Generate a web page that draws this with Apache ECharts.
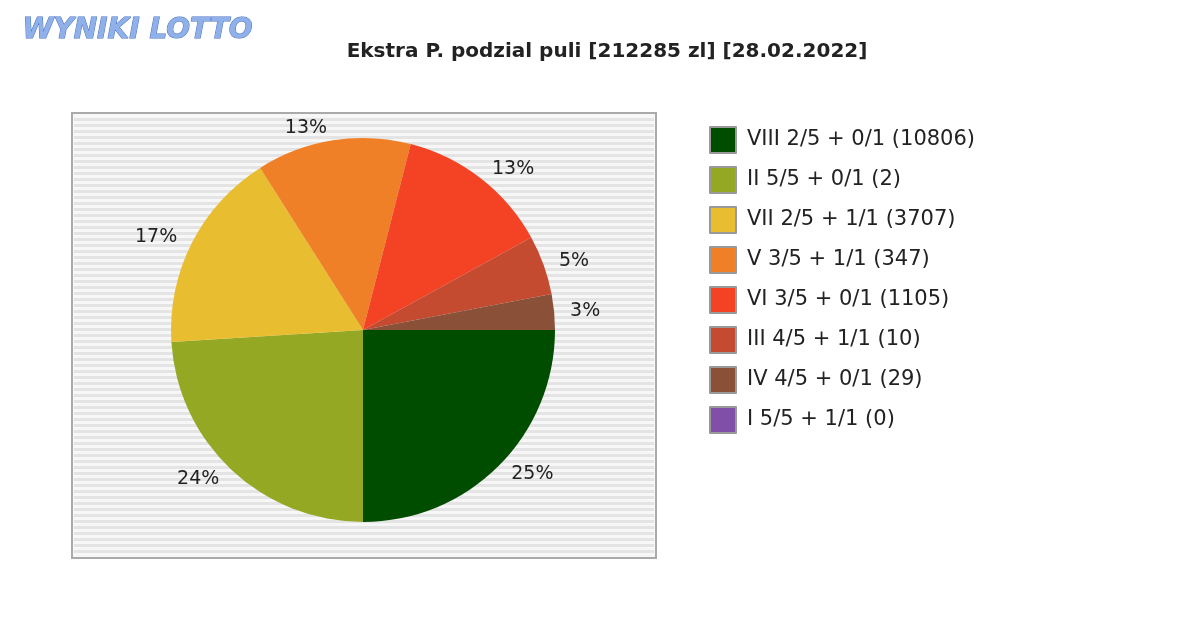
<!DOCTYPE html>
<html><head><meta charset="utf-8">
<script src="https://cdn.jsdelivr.net/npm/echarts@6/dist/echarts.min.js"></script>
<style>html,body{margin:0;padding:0;background:#fff}#c{width:1200px;height:630px}</style>
</head><body><div id="c"></div>
<script>
const categories = ['VIII 2/5 + 0/1 (10806)','II 5/5 + 0/1 (2)','VII 2/5 + 1/1 (3707)','V 3/5 + 1/1 (347)','VI 3/5 + 0/1 (1105)','III 4/5 + 1/1 (10)','IV 4/5 + 0/1 (29)','I 5/5 + 1/1 (0)'];
const values = [25, 24, 17, 13, 13, 5, 3, 0];
const colors = ['#004d00','#94a824','#e8be30','#f08028','#f44324','#c44a30','#8b5038','#8050a8'];
const chart = echarts.init(document.getElementById('c'));
const stripes = [];
for (let y = 118; y < 556; y += 6) stripes.push({type:'rect', shape:{x:74,y:y,width:580,height:3}, style:{fill:'#e4e4e4'}, silent:true, z:-9});
chart.setOption({
  animation:false,
  title:{text:'Ekstra P. podzial puli [212285 zl] [28.02.2022]', left:602, textAlign:'center', top:37,
    textStyle:{fontFamily:'DejaVu Sans', fontSize:20, fontWeight:'bold', color:'#222'}},
  graphic:[
    {type:'rect', shape:{x:72,y:113,width:584,height:445}, style:{fill:'#f7f7f7', stroke:'#aaa', lineWidth:2}, z:-10, silent:true},
    ...stripes,
    {type:'text', left:22, top:16, style:{text:'WYNIKI LOTTO', font:'bold italic 28px DejaVu Sans', fill:'#8fb0e8', stroke:'#4a70c0', lineWidth:1}}
  ],
  legend:{orient:'vertical', left:704, top:121, itemWidth:26, itemHeight:26, itemGap:12, icon:'rect',
    itemStyle:{borderColor:'#999', borderWidth:2},
    textStyle:{fontFamily:'DejaVu Sans', fontSize:21, color:'#222', padding:[0,0,0,6]}, data:categories},
  series:[{type:'pie', center:[363,330], radius:[0,192], startAngle:0, clockwise:true,
    minShowLabelAngle:0.1,
    data:categories.map((n,i)=>({name:n, value:values[i], itemStyle:{color:colors[i]}})),
    label:{formatter:p=>p.value>0?p.value+'%':'', fontFamily:'DejaVu Sans', fontSize:19, color:'#222', distanceToLabelLine:4},
    labelLine:{show:false, length:12, length2:0},
    itemStyle:{borderWidth:0}
  }]
});
</script></body></html>
